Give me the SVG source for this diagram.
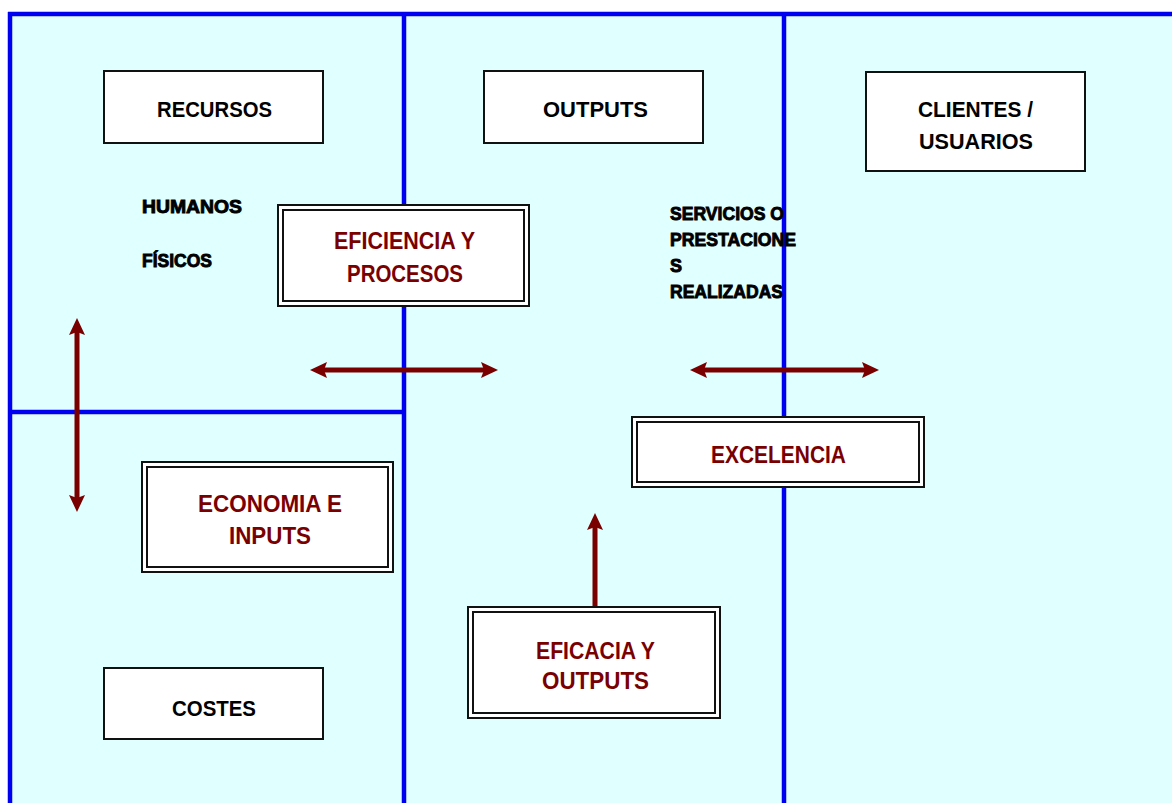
<svg xmlns="http://www.w3.org/2000/svg" width="1172" height="803" viewBox="0 0 1172 803">
<defs>
<style>
.bg{fill:#E0FFFF}
.div{stroke:#0000F0;stroke-width:4.5;fill:none}
.box{fill:#fff;stroke:#111;stroke-width:2}
.inner{fill:none;stroke:#111;stroke-width:2}
.lbl{font-family:"Liberation Sans",Arial,sans-serif;font-weight:bold;font-size:22px;fill:#000}
.red{fill:#7A0000;font-size:23px}
.small{font-size:18px;stroke:#000;stroke-width:0.9}
.arrow{stroke:#7A0000;stroke-width:5;fill:none}
</style>
<marker id="ah" viewBox="0 0 17 16" markerWidth="17" markerHeight="16" refX="7" refY="8" orient="auto-start-reverse" markerUnits="userSpaceOnUse">
<path d="M0,0 L17,8 L0,16 L3,8 Z" fill="#7A0000"/>
</marker>
</defs>
<rect x="0" y="0" width="1172" height="803" fill="#fff"/>
<rect class="bg" x="10" y="14" width="1162" height="789"/>
<g id="dividers">
<line class="div" x1="8" y1="14" x2="1172" y2="14"/>
<line class="div" x1="10" y1="12" x2="10" y2="803"/>
<line class="div" x1="10" y1="412" x2="404" y2="412"/>
<line class="div" x1="404" y1="14" x2="404" y2="205"/>
<line class="div" x1="404" y1="306" x2="404" y2="803"/>
<line class="div" x1="784" y1="14" x2="784" y2="417"/>
<line class="div" x1="784" y1="487" x2="784" y2="803"/>
</g>
<g id="connectors">
<line class="arrow" x1="77" y1="328" x2="77" y2="502" marker-start="url(#ah)" marker-end="url(#ah)"/>
<line class="arrow" x1="320" y1="370" x2="488" y2="370" marker-start="url(#ah)" marker-end="url(#ah)"/>
<line class="arrow" x1="700" y1="370" x2="869" y2="370" marker-start="url(#ah)" marker-end="url(#ah)"/>
<line class="arrow" x1="595" y1="607" x2="595" y2="523" marker-end="url(#ah)"/>
</g>
<g id="recursos">
<rect class="box" x="104" y="71" width="219" height="72"/>
<text class="lbl" x="157" y="117" textLength="115" lengthAdjust="spacingAndGlyphs">RECURSOS</text>
</g>
<g id="outputs">
<rect class="box" x="484" y="71" width="219" height="72"/>
<text class="lbl" x="543" y="117" textLength="105" lengthAdjust="spacingAndGlyphs">OUTPUTS</text>
</g>
<g id="clientes">
<rect class="box" x="866" y="72" width="219" height="99"/>
<text class="lbl" x="918" y="117" textLength="115" lengthAdjust="spacingAndGlyphs">CLIENTES /</text>
<text class="lbl" x="919" y="149" textLength="114" lengthAdjust="spacingAndGlyphs">USUARIOS</text>
</g>
<g id="recursos-tipos">
<text class="lbl small" x="142" y="213" textLength="100" lengthAdjust="spacingAndGlyphs">HUMANOS</text>
<text class="lbl small" x="142" y="267" textLength="70" lengthAdjust="spacingAndGlyphs">FÍSICOS</text>
</g>
<g id="eficiencia">
<rect class="box" x="278" y="205" width="251" height="101"/>
<rect class="inner" x="283" y="210" width="241" height="91"/>
<text class="lbl red" x="334" y="249" textLength="141" lengthAdjust="spacingAndGlyphs">EFICIENCIA Y</text>
<text class="lbl red" x="347" y="282" textLength="116" lengthAdjust="spacingAndGlyphs">PROCESOS</text>
</g>
<g id="servicios">
<text class="lbl small" x="670" y="220" textLength="114" lengthAdjust="spacingAndGlyphs">SERVICIOS O</text>
<text class="lbl small" x="670" y="246" textLength="126" lengthAdjust="spacingAndGlyphs">PRESTACIONE</text>
<text class="lbl small" x="670" y="272">S</text>
<text class="lbl small" x="670" y="298" textLength="113" lengthAdjust="spacingAndGlyphs">REALIZADAS</text>
</g>
<g id="economia">
<rect class="box" x="142" y="462" width="251" height="110"/>
<rect class="inner" x="147" y="467" width="241" height="100"/>
<text class="lbl red" x="198" y="512" textLength="144" lengthAdjust="spacingAndGlyphs">ECONOMIA E</text>
<text class="lbl red" x="229" y="544" textLength="82" lengthAdjust="spacingAndGlyphs">INPUTS</text>
</g>
<g id="excelencia">
<rect class="box" x="632" y="417" width="292" height="70"/>
<rect class="inner" x="637" y="422" width="282" height="60"/>
<text class="lbl red" x="711" y="463" textLength="135" lengthAdjust="spacingAndGlyphs">EXCELENCIA</text>
</g>
<g id="eficacia">
<rect class="box" x="468" y="607" width="252" height="111"/>
<rect class="inner" x="473" y="612" width="242" height="101"/>
<text class="lbl red" x="536" y="659" textLength="119" lengthAdjust="spacingAndGlyphs">EFICACIA Y</text>
<text class="lbl red" x="542" y="689" textLength="107" lengthAdjust="spacingAndGlyphs">OUTPUTS</text>
</g>
<g id="costes">
<rect class="box" x="104" y="668" width="219" height="71"/>
<text class="lbl" x="172" y="716" textLength="84" lengthAdjust="spacingAndGlyphs">COSTES</text>
</g>
</svg>
